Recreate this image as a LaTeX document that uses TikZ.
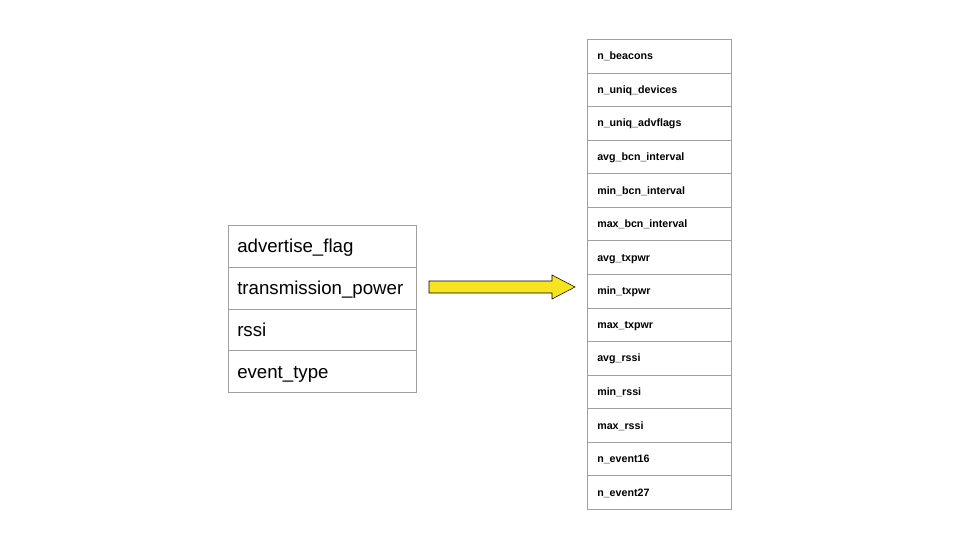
\documentclass[tikz,border=0pt]{standalone}
\usepackage{fontspec}
\setmainfont{Liberation Sans}
\usetikzlibrary{calc}
\definecolor{arrowyellow}{RGB}{247,228,30}
\definecolor{cellline}{RGB}{160,160,160}

\begin{document}
\begin{tikzpicture}[x=0.75pt,y=-0.75pt]
\useasboundingbox (0,0) rectangle (960,540);
\pgfmathsetmacro{\leftH}{41.75}
\pgfmathsetmacro{\rightH}{33.57}

\tikzstyle{incell}=[draw=cellline,anchor=north west,minimum height=31.31pt,inner xsep=6.75pt,inner ysep=0pt,text width=127.5pt,text height=13pt,text depth=3pt,align=left,font=\fontsize{14}{16}\selectfont]
\tikzstyle{outcell}=[draw=cellline,anchor=north west,minimum height=25.18pt,inner xsep=7.5pt,inner ysep=0pt,text width=93pt,text height=7.7pt,text depth=2pt,align=left,font=\fontsize{8}{10}\selectfont\bfseries]

% input features
\foreach \lbl [count=\i from 0] in {advertise\_flag,transmission\_power,rssi,event\_type}
  \node[incell] (in\i) at (228,{225+\i*\leftH}) {\lbl};

% aggregated features
\foreach \lbl [count=\i from 0] in {n\_beacons,n\_uniq\_devices,n\_uniq\_advflags,avg\_bcn\_interval,min\_bcn\_interval,max\_bcn\_interval,avg\_txpwr,min\_txpwr,max\_txpwr,avg\_rssi,min\_rssi,max\_rssi,n\_event16,n\_event27}
  \node[outcell] (out\i) at (587,{39+\i*\rightH}) {\lbl};

% block arrow
\draw[fill=arrowyellow,line join=miter] (429,281) -- (552,281) -- (552,275) -- (575,287) -- (552,299) -- (552,293) -- (429,293) -- cycle;
\end{tikzpicture}
\end{document}
